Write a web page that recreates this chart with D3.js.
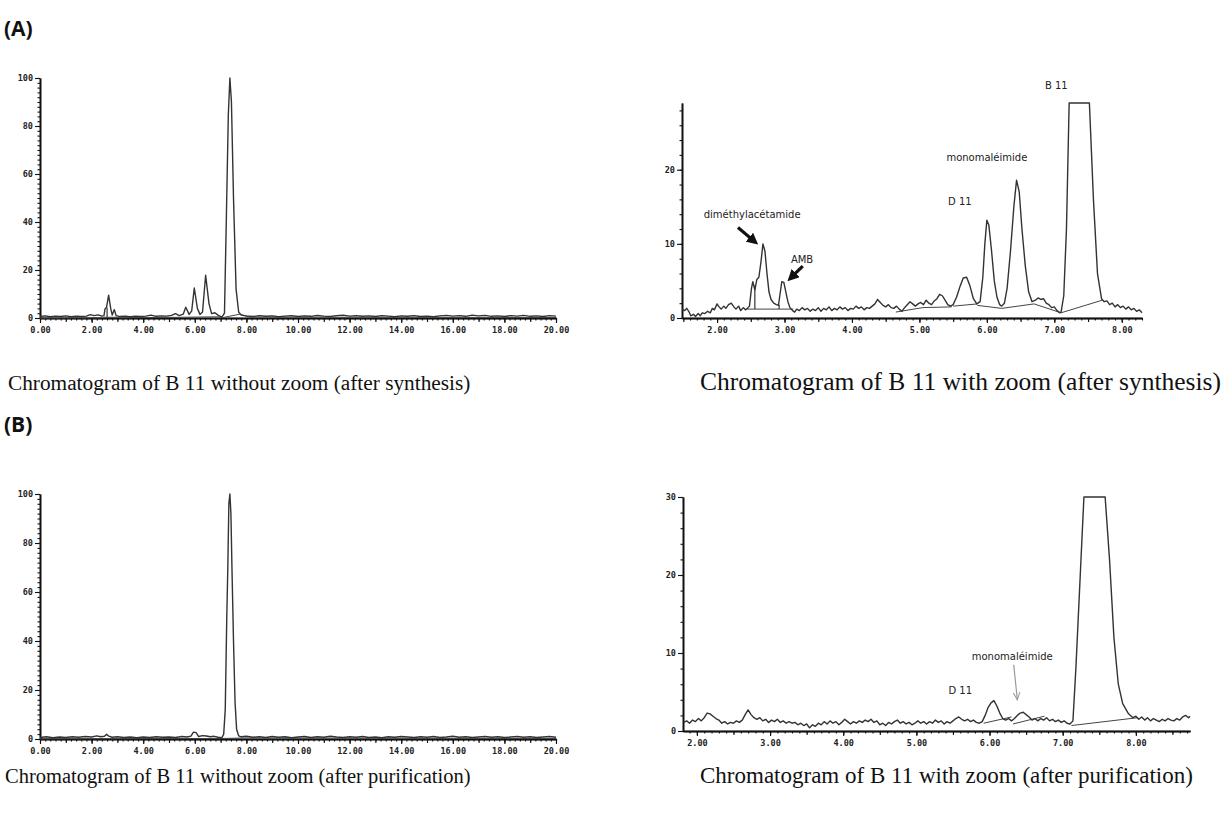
<!DOCTYPE html>
<html>
<head>
<meta charset="utf-8">
<script src="https://cdn.jsdelivr.net/npm/d3@7"></script>
<style>
body { margin: 0; background: #fff; }
svg { display: block; }
.cap { font-family: "Liberation Serif", "Times New Roman", serif; font-size: 21px; fill: #111; }
.panel { font-family: "Open Sans", Arial, sans-serif; font-weight: 700; font-size: 21px; fill: #111; }
.tick text { font-family: "DejaVu Sans Mono", monospace; font-weight: bold; font-size: 8.5px; fill: #222; }
.ann { font-family: "DejaVu Sans", Verdana, sans-serif; font-size: 10px; fill: #222; }
</style>
</head>
<body>
<svg id="fig" width="1226" height="815"></svg>
<script>

// ---------- data : [time (min), intensity (%)] ----------

// (A) left : after synthesis, no zoom
var aLeftTrace = [
  [0,0.6],[0.2,0.9],[0.4,0.5],[0.6,0.8],[0.8,0.6],[1.0,0.9],[1.2,0.5],[1.4,0.7],[1.6,0.6],[1.8,0.8],
  [1.95,1.4],[2.1,1.0],[2.25,1.3],[2.4,0.8],[2.48,1.0],[2.52,3.8],[2.58,4.5],[2.66,9.5],[2.74,4.0],
  [2.8,1.2],[2.88,3.5],[2.95,1.0],[3.1,0.6],[3.3,0.8],[3.5,0.5],[3.7,0.7],[3.9,0.6],[4.1,0.8],
  [4.3,1.2],[4.5,0.7],[4.7,0.9],[4.9,0.8],[5.1,1.1],[5.25,1.8],[5.4,1.0],[5.55,1.6],[5.65,4.5],
  [5.78,1.5],[5.88,3.0],[5.98,12.5],[6.1,4.0],[6.2,1.5],[6.3,2.5],[6.42,17.8],[6.55,6.0],[6.65,1.8],
  [6.78,2.2],[6.9,1.2],[7.05,0.4],[7.15,2.0],[7.22,40],[7.3,85],[7.36,100],[7.42,90],[7.5,50],
  [7.6,12],[7.7,2.5],[7.8,1.2],[8.0,0.9],[8.25,0.6],[8.5,1.0],[8.75,0.7],[9.0,0.9],[9.25,0.5],
  [9.5,0.8],[9.75,1.0],[10.0,0.6],[10.25,0.9],[10.5,0.7],[10.75,1.1],[11.0,0.8],[11.25,0.6],
  [11.5,1.0],[11.75,1.2],[12.0,0.8],[12.25,1.0],[12.5,0.7],[12.75,0.9],[13.0,0.6],[13.25,1.0],
  [13.5,0.8],[13.75,0.5],[14.0,0.9],[14.25,0.7],[14.5,1.0],[14.75,0.6],[15.0,0.8],[15.25,0.5],
  [15.5,0.9],[15.75,1.1],[16.0,0.8],[16.25,1.0],[16.5,0.7],[16.75,1.2],[17.0,0.9],[17.25,1.1],
  [17.5,0.7],[17.75,0.9],[18.0,0.6],[18.25,1.0],[18.5,0.8],[18.75,1.1],[19.0,0.7],[19.25,0.9],
  [19.5,0.6],[19.75,1.0],[20.0,0.8]
];
var aLeftBase = [[0,0.0],[2.45,0.1],[2.5,0.3],[3.0,0.3],[3.1,0.1],[5.5,0.3],[6.9,0.5],[7.1,0.2],[7.75,1.6],[8.1,0.4],[20,0.2]];
var aLeftDrops = [[2.6,0.3,4.3]];

// (A) right : after synthesis, zoom
var aRightTrace = [
  [1.48,1.2],[1.52,1.0],[1.55,1.3],[1.58,0.9],[1.61,0.3],[1.65,0.5],[1.68,0.2],[1.72,0.6],[1.75,0.3],
  [1.78,0.7],[1.82,0.6],[1.86,0.9],[1.9,0.7],[1.93,1.3],[1.96,1.1],[2.0,1.9],[2.03,1.5],[2.06,1.2],
  [2.1,1.6],[2.13,1.3],[2.17,1.8],[2.21,2.0],[2.25,1.5],[2.28,1.2],[2.32,1.6],[2.35,1.0],[2.39,1.4],
  [2.42,1.1],[2.45,1.3],[2.48,1.6],[2.51,4.0],[2.53,4.9],[2.56,3.8],[2.59,5.2],[2.62,5.5],[2.65,7.5],
  [2.68,10.0],[2.71,9.0],[2.74,6.0],[2.77,3.5],[2.8,2.5],[2.84,2.0],[2.88,1.8],[2.91,1.7],[2.93,3.0],
  [2.96,4.9],[2.99,4.8],[3.02,3.5],[3.05,2.2],[3.08,1.4],[3.12,1.0],[3.15,0.8],[3.18,1.2],[3.22,1.0],
  [3.26,1.4],[3.3,1.1],[3.34,1.3],[3.38,0.9],[3.42,1.2],[3.46,1.0],[3.5,1.4],[3.54,0.9],[3.58,1.3],
  [3.62,1.1],[3.66,1.5],[3.7,1.0],[3.74,1.3],[3.78,1.1],[3.82,1.5],[3.86,1.2],[3.9,1.4],[3.94,1.0],
  [3.98,1.3],[4.02,1.2],[4.06,1.6],[4.1,1.3],[4.14,1.5],[4.18,1.1],[4.22,1.4],[4.26,1.3],[4.3,1.6],
  [4.34,1.9],[4.38,2.5],[4.42,2.1],[4.46,1.7],[4.5,1.5],[4.54,1.8],[4.58,1.4],[4.62,1.3],[4.66,1.6],
  [4.7,1.2],[4.74,0.9],[4.78,1.4],[4.82,1.8],[4.86,2.2],[4.9,1.9],[4.94,1.6],[4.98,1.9],[5.02,2.1],
  [5.06,1.8],[5.1,2.4],[5.14,2.0],[5.18,1.8],[5.22,2.3],[5.26,2.6],[5.3,3.2],[5.34,3.0],[5.38,2.4],
  [5.42,1.8],[5.46,1.6],[5.5,1.8],[5.55,2.8],[5.6,4.2],[5.65,5.4],[5.7,5.5],[5.75,4.3],[5.8,2.6],
  [5.85,1.9],[5.9,2.2],[5.94,5.5],[5.97,10],[6.0,13.2],[6.03,12.5],[6.07,9],[6.11,5],[6.15,2.8],
  [6.19,1.8],[6.22,1.6],[6.26,2.0],[6.3,4],[6.35,9],[6.4,15],[6.44,18.6],[6.48,17],[6.52,12],
  [6.57,7],[6.62,3.5],[6.67,2.2],[6.72,2.4],[6.76,2.7],[6.8,2.5],[6.84,2.6],[6.88,2.0],[6.92,1.8],
  [6.96,1.4],[7.0,1.5],[7.04,1.0],[7.08,0.7],[7.1,0.8],[7.14,3],[7.18,12],[7.22,29],[7.52,29],
  [7.58,16],[7.64,6],[7.7,2.6],[7.74,2.2],[7.78,2.3],[7.82,1.8],[7.86,2.0],[7.9,1.5],[7.94,1.8],
  [7.98,1.4],[8.02,1.6],[8.06,1.2],[8.1,1.5],[8.14,1.1],[8.18,1.3],[8.22,0.9],[8.26,1.1],[8.3,0.7]
];
var aRightBase = [
  [[2.45,1.2],[3.13,1.2]],
  [[4.65,0.8],[5.05,1.4],[5.48,1.5]],
  [[5.5,1.6],[5.86,1.9]],
  [[5.86,1.7],[6.22,1.3],[6.7,1.9],[7.1,0.7],[7.71,2.4]]
];
var aRightDrops = [[2.56,1.2,4.4],[2.92,1.2,1.8]];

// (B) left : after purification, no zoom
var bLeftTrace = [
  [0,0.6],[0.25,0.9],[0.5,0.5],[0.75,0.8],[1.0,0.6],[1.25,0.9],[1.5,0.7],[1.75,1.0],[2.0,0.8],
  [2.2,1.3],[2.35,0.9],[2.5,1.1],[2.58,1.9],[2.66,1.2],[2.8,0.7],[3.0,0.9],[3.25,0.6],[3.5,0.8],
  [3.75,0.5],[4.0,0.8],[4.25,0.6],[4.5,0.9],[4.75,0.7],[5.0,0.8],[5.25,0.6],[5.5,1.0],[5.7,0.8],
  [5.85,1.2],[5.95,2.8],[6.05,2.6],[6.15,1.0],[6.3,1.4],[6.45,1.2],[6.6,0.9],[6.75,1.1],[6.9,0.7],
  [7.05,0.5],[7.12,2],[7.18,12],[7.24,50],[7.28,70],[7.32,96],[7.36,100],[7.4,92],[7.44,70],
  [7.5,40],[7.56,15],[7.62,4],[7.7,1.3],[7.8,0.9],[8.0,1.1],[8.25,0.7],[8.5,0.9],[8.75,0.6],
  [9.0,1.0],[9.25,0.7],[9.5,0.9],[9.75,0.5],[10.0,0.8],[10.25,1.0],[10.5,0.6],[10.75,0.9],
  [11.0,0.7],[11.25,1.1],[11.5,0.8],[11.75,0.6],[12.0,0.9],[12.25,0.7],[12.5,1.0],[12.75,0.6],
  [13.0,0.8],[13.25,0.5],[13.5,0.9],[13.75,0.7],[14.0,1.0],[14.25,0.8],[14.5,0.6],[14.75,0.9],
  [15.0,0.7],[15.25,1.0],[15.5,0.6],[15.75,0.8],[16.0,1.1],[16.25,0.7],[16.5,0.9],[16.75,0.6],
  [17.0,0.8],[17.25,1.0],[17.5,0.7],[17.75,0.9],[18.0,0.6],[18.25,0.8],[18.5,1.0],[18.75,0.7],
  [19.0,0.9],[19.25,0.6],[19.5,0.8],[19.75,1.0],[20.0,0.7]
];
var bLeftBase = [[0,0.1],[7.05,0.2],[7.8,0.4],[20,0.2]];

// (B) right : after purification, zoom
var bRightTrace = [
  [1.82,1.1],[1.86,1.3],[1.9,1.0],[1.94,1.4],[1.98,1.2],[2.02,1.6],[2.06,1.3],[2.1,1.7],[2.14,2.3],
  [2.18,2.2],[2.22,1.9],[2.26,1.6],[2.3,1.4],[2.34,1.0],[2.38,1.2],[2.42,0.9],[2.46,1.1],[2.5,1.0],
  [2.54,1.3],[2.58,1.1],[2.62,1.4],[2.66,2.1],[2.7,2.7],[2.74,2.1],[2.78,1.7],[2.82,1.5],[2.86,1.7],
  [2.9,1.3],[2.94,1.5],[2.98,1.1],[3.02,1.4],[3.06,1.2],[3.1,1.5],[3.14,1.1],[3.18,1.3],[3.22,1.0],
  [3.26,1.2],[3.3,1.0],[3.34,1.1],[3.38,0.8],[3.42,1.0],[3.46,0.7],[3.5,0.9],[3.54,0.4],[3.58,0.8],
  [3.62,0.6],[3.66,1.0],[3.7,0.8],[3.74,1.2],[3.78,0.9],[3.82,1.3],[3.86,1.0],[3.9,1.2],[3.94,0.8],
  [3.98,1.1],[4.02,1.5],[4.06,1.2],[4.1,0.9],[4.14,1.2],[4.18,1.0],[4.22,1.3],[4.26,1.1],[4.3,1.4],
  [4.34,1.2],[4.38,1.5],[4.42,1.1],[4.46,1.3],[4.5,0.8],[4.54,1.0],[4.58,0.7],[4.62,1.1],[4.66,0.9],
  [4.7,1.2],[4.74,1.4],[4.78,1.0],[4.82,1.2],[4.86,0.9],[4.9,1.1],[4.94,0.8],[4.98,1.0],[5.02,1.3],
  [5.06,1.0],[5.1,1.2],[5.14,0.9],[5.18,1.2],[5.22,1.0],[5.26,1.4],[5.3,1.1],[5.34,1.3],[5.38,0.9],
  [5.42,1.2],[5.46,1.0],[5.5,1.3],[5.54,1.6],[5.58,1.8],[5.62,1.5],[5.66,1.3],[5.7,1.5],[5.74,1.2],
  [5.78,1.4],[5.82,1.1],[5.86,1.0],[5.9,1.2],[5.94,2.0],[5.98,3.0],[6.02,3.6],[6.06,3.9],[6.1,3.2],
  [6.14,2.3],[6.18,1.6],[6.22,1.4],[6.26,1.6],[6.3,1.3],[6.34,1.6],[6.38,2.0],[6.42,2.3],[6.46,2.4],
  [6.5,2.1],[6.54,1.8],[6.58,1.4],[6.62,1.6],[6.66,1.3],[6.7,1.6],[6.74,1.4],[6.78,1.7],[6.82,1.3],
  [6.86,1.5],[6.9,1.2],[6.94,1.4],[6.98,1.1],[7.02,1.3],[7.06,1.0],[7.1,0.9],[7.14,1.3],[7.18,8],
  [7.24,20],[7.29,30],[7.58,30],[7.64,22],[7.7,12],[7.76,6],[7.82,3.5],[7.9,2.2],[7.96,1.7],
  [8.0,1.9],[8.04,1.5],[8.08,1.8],[8.12,1.4],[8.16,1.7],[8.2,1.3],[8.24,1.6],[8.28,1.4],[8.32,1.2],
  [8.36,1.5],[8.4,1.3],[8.44,1.6],[8.48,1.4],[8.52,1.3],[8.56,1.6],[8.6,1.4],[8.64,1.8],[8.68,2.0],
  [8.72,1.7],[8.74,1.9]
];
var bRightBase = [
  [[5.92,1.0],[6.3,1.8]],
  [[6.32,0.9],[6.75,1.9]],
  [[7.12,0.7],[8.02,1.7]]
];

// tick labels
var xLabelsFull = [0, 2, 4, 6, 8, 10, 12, 14, 16, 18, 20];
var yLabelsFull = [0, 20, 40, 60, 80, 100];
var xLabelsZoom = [2, 3, 4, 5, 6, 7, 8];
var yLabelsZoomA = [0, 10, 20];
var yLabelsZoomB = [0, 10, 20, 30];

// captions and annotations
var captions = [
  "Chromatogram of B 11 without zoom (after synthesis)",
  "Chromatogram of B 11 with zoom (after synthesis)",
  "Chromatogram of B 11 without zoom (after purification)",
  "Chromatogram of B 11 with zoom (after purification)"
];
var aRightNotes = [
  {text: "diméthylacétamide", t: 2.52, v: 14.0},
  {text: "AMB", t: 3.26, v: 7.9},
  {text: "monomaléimide", t: 6.0, v: 21.7},
  {text: "D 11", t: 5.6, v: 15.7},
  {text: "B 11", t: 7.03, v: 31.3}
];
var aRightArrows = [
  {from: [2.31, 12.2], to: [2.57, 10.2]},
  {from: [3.27, 7.0], to: [3.08, 5.3]}
];
var bRightNotes = [
  {text: "monomaléimide", t: 6.31, v: 9.6},
  {text: "D 11", t: 5.6, v: 5.2}
];
var bRightArrows = [
  {from: [6.33, 8.5], to: [6.38, 4.0]}
];


var svg = d3.select('#fig');

// arrow heads
var defs = svg.append('defs');
defs.append('marker')
    .attr('id', 'head-bold')
    .attr('viewBox', '0 0 10 10')
    .attr('refX', 7).attr('refY', 5)
    .attr('markerWidth', 3.6).attr('markerHeight', 3.6)
    .attr('orient', 'auto')
  .append('path')
    .attr('d', 'M0,0L10,5L0,10z')
    .attr('fill', '#111');
defs.append('marker')
    .attr('id', 'head-thin')
    .attr('viewBox', '0 0 10 10')
    .attr('refX', 9).attr('refY', 5)
    .attr('markerWidth', 7).attr('markerHeight', 7)
    .attr('orient', 'auto')
  .append('path')
    .attr('d', 'M0,1L9,5L0,9')
    .attr('fill', 'none')
    .attr('stroke', '#999')
    .attr('stroke-width', 1.2);


/*****************************/
// One chromatogram panel
/*****************************/
function drawPanel(p) {

    var x = d3.scaleLinear().domain(p.xDomain).range([p.left, p.right]);
    var y = d3.scaleLinear().domain(p.yDomain).range([p.bottom, p.top]);
    var g = svg.append('g');

    // x axis : minor, mid and labelled ticks
    g.append('g')
        .attr('transform', 'translate(0,' + p.bottom + ')')
        .call(d3.axisBottom(x).tickValues(p.xMinor).tickSize(2.5).tickSizeOuter(0).tickFormat(''));
    g.append('g')
        .attr('transform', 'translate(0,' + p.bottom + ')')
        .call(d3.axisBottom(x).tickValues(p.xMid).tickSize(4).tickSizeOuter(0).tickFormat(''));
    g.append('g')
        .attr('transform', 'translate(0,' + p.bottom + ')')
        .call(d3.axisBottom(x).tickValues(p.xLabels).tickSize(5).tickSizeOuter(0)
              .tickPadding(4).tickFormat(d3.format('.2f')));

    // y axis
    g.append('g')
        .attr('transform', 'translate(' + p.left + ',0)')
        .call(d3.axisLeft(y).tickValues(p.yMinor).tickSize(2.5).tickSizeOuter(0).tickFormat(''));
    g.append('g')
        .attr('transform', 'translate(' + p.left + ',0)')
        .call(d3.axisLeft(y).tickValues(p.yLabels).tickSize(5).tickSizeOuter(0)
              .tickPadding(2).tickFormat(d3.format('d')));

    g.selectAll('.domain').attr('stroke', '#111').attr('stroke-width', 1.6);
    g.selectAll('.tick line').attr('stroke', '#111').attr('stroke-width', 1.1);

    var line = d3.line()
        .x(function(d) { return x(d[0]); })
        .y(function(d) { return y(d[1]); });

    // integration baselines
    p.bases.forEach(function(b) {
        g.append('path').datum(b)
            .attr('d', line)
            .attr('fill', 'none')
            .attr('stroke', '#444')
            .attr('stroke-width', 1);
    });
    (p.drops || []).forEach(function(d) {
        g.append('line')
            .attr('x1', x(d[0])).attr('x2', x(d[0]))
            .attr('y1', y(d[1])).attr('y2', y(d[2]))
            .attr('stroke', '#333').attr('stroke-width', 1.2);
    });

    // signal trace
    g.append('path').datum(p.trace)
        .attr('d', line)
        .attr('fill', 'none')
        .attr('stroke', '#333')
        .attr('stroke-width', 1.4)
        .attr('stroke-linejoin', 'round');

    // labels and arrows
    (p.notes || []).forEach(function(n) {
        g.append('text').attr('class', 'ann')
            .attr('x', x(n.t)).attr('y', y(n.v))
            .attr('text-anchor', 'middle')
            .attr('dy', '0.35em')
            .text(n.text);
    });
    (p.arrows || []).forEach(function(a) {
        g.append('line')
            .attr('x1', x(a.from[0])).attr('y1', y(a.from[1]))
            .attr('x2', x(a.to[0])).attr('y2', y(a.to[1]))
            .attr('stroke', p.arrowColor)
            .attr('stroke-width', p.arrowWidth)
            .attr('marker-end', 'url(#' + p.arrowHead + ')');
    });
}

drawPanel({
    xDomain: [0, 20], yDomain: [0, 100],
    left: 40, right: 556, top: 78, bottom: 318,
    xMinor: d3.range(0, 20.01, 0.2), xMid: d3.range(0, 20.01, 1), xLabels: xLabelsFull,
    yMinor: d3.range(0, 100.1, 2), yLabels: yLabelsFull,
    trace: aLeftTrace, bases: [aLeftBase], drops: aLeftDrops
});

drawPanel({
    xDomain: [1.48, 8.30], yDomain: [0, 29],
    left: 682, right: 1142, top: 103, bottom: 318,
    xMinor: d3.range(1.5, 8.31, 0.1), xMid: d3.range(1.5, 8.31, 0.5), xLabels: xLabelsZoom,
    yMinor: d3.range(0, 29.1, 2), yLabels: yLabelsZoomA,
    trace: aRightTrace, bases: aRightBase, drops: aRightDrops,
    notes: aRightNotes, arrows: aRightArrows,
    arrowColor: '#111', arrowWidth: 3.2, arrowHead: 'head-bold'
});

drawPanel({
    xDomain: [0, 20], yDomain: [0, 100],
    left: 40, right: 556, top: 494, bottom: 739,
    xMinor: d3.range(0, 20.01, 0.2), xMid: d3.range(0, 20.01, 1), xLabels: xLabelsFull,
    yMinor: d3.range(0, 100.1, 2), yLabels: yLabelsFull,
    trace: bLeftTrace, bases: [bLeftBase]
});

drawPanel({
    xDomain: [1.81, 8.74], yDomain: [0, 30],
    left: 683, right: 1190, top: 497, bottom: 731,
    xMinor: d3.range(1.9, 8.74, 0.1), xMid: d3.range(2, 8.74, 0.5), xLabels: xLabelsZoom,
    yMinor: d3.range(0, 30.1, 2), yLabels: yLabelsZoomB,
    trace: bRightTrace, bases: bRightBase,
    notes: bRightNotes, arrows: bRightArrows,
    arrowColor: '#999', arrowWidth: 1.2, arrowHead: 'head-thin'
});

// panel letters
svg.append('text').attr('class', 'panel').attr('x', 4).attr('y', 36).text('(A)');
svg.append('text').attr('class', 'panel').attr('x', 4).attr('y', 432).text('(B)');

// captions : [left, right, baseline] in pixels; font size fitted to the span
var capBox = [[8, 470, 390], [700, 1222, 390], [5, 470, 783], [700, 1192, 783]];
captions.forEach(function(c, i) {
    var t = svg.append('text').attr('class', 'cap')
        .attr('x', capBox[i][0]).attr('y', capBox[i][2])
        .text(c);
    var w = t.node().getComputedTextLength();
    var fs = 21 * (capBox[i][1] - capBox[i][0]) / w;
    t.style('font-size', fs.toFixed(1) + 'px');
});

</script>
</body>
</html>
